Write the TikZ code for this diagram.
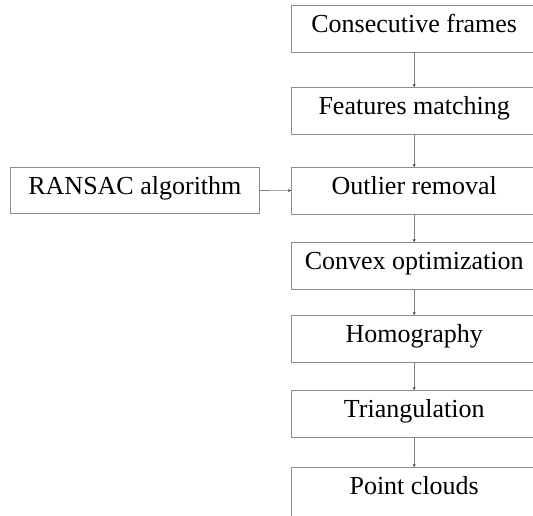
\documentclass[tikz,border=0pt]{standalone}
\usepackage{fontspec}
\setmainfont{Liberation Serif}
\usetikzlibrary{arrows.meta}
\begin{document}
\begin{tikzpicture}[x=1pt,y=-1pt,
  stepbox/.style={minimum width=246pt,minimum height=47pt,inner sep=0pt,text height=17pt,text depth=9pt,font=\fontsize{26}{28}\selectfont,text=black,anchor=north west},
  leftbox/.style={draw=black!45,line width=0.8pt,minimum width=249pt,minimum height=46pt,inner sep=0pt,text height=17pt,text depth=9pt,font=\fontsize{26}{28}\selectfont,text=black,anchor=north west},
  boxline/.style={draw=black!45,line width=0.8pt},
  conn/.style={draw=black!50,line width=0.6pt,-{Stealth[length=3pt,width=3pt,color=black!80]}}]
\useasboundingbox (0,0) rectangle (533,515);
\node[stepbox] (a) at (291,5) {Consecutive frames};
\node[stepbox] (b) at (291,87) {Features matching};
\node[stepbox] (c) at (291,167) {Outlier removal};
\node[stepbox] (d) at (291,242) {Convex optimization};
\node[stepbox] (e) at (291,315) {Homography};
\node[stepbox] (f) at (291,390) {Triangulation};
\node[stepbox] (g) at (291,467) {Point clouds};
\node[leftbox] (r) at (10,167) {RANSAC algorithm};
\foreach \n in {a,b,c,d,e,f}
  \draw[boxline] (\n.north west) rectangle ([xshift=30pt]\n.south east);
\draw[boxline] (g.north west) rectangle ([xshift=30pt,yshift=-30pt]g.south east);
\draw[conn] (a) -- (b);
\draw[conn] (b) -- (c);
\draw[conn] (c) -- (d);
\draw[conn] (d) -- (e);
\draw[conn] (e) -- (f);
\draw[conn] (f) -- (g);
\draw[conn] (r) -- (c);
\end{tikzpicture}
\end{document}
